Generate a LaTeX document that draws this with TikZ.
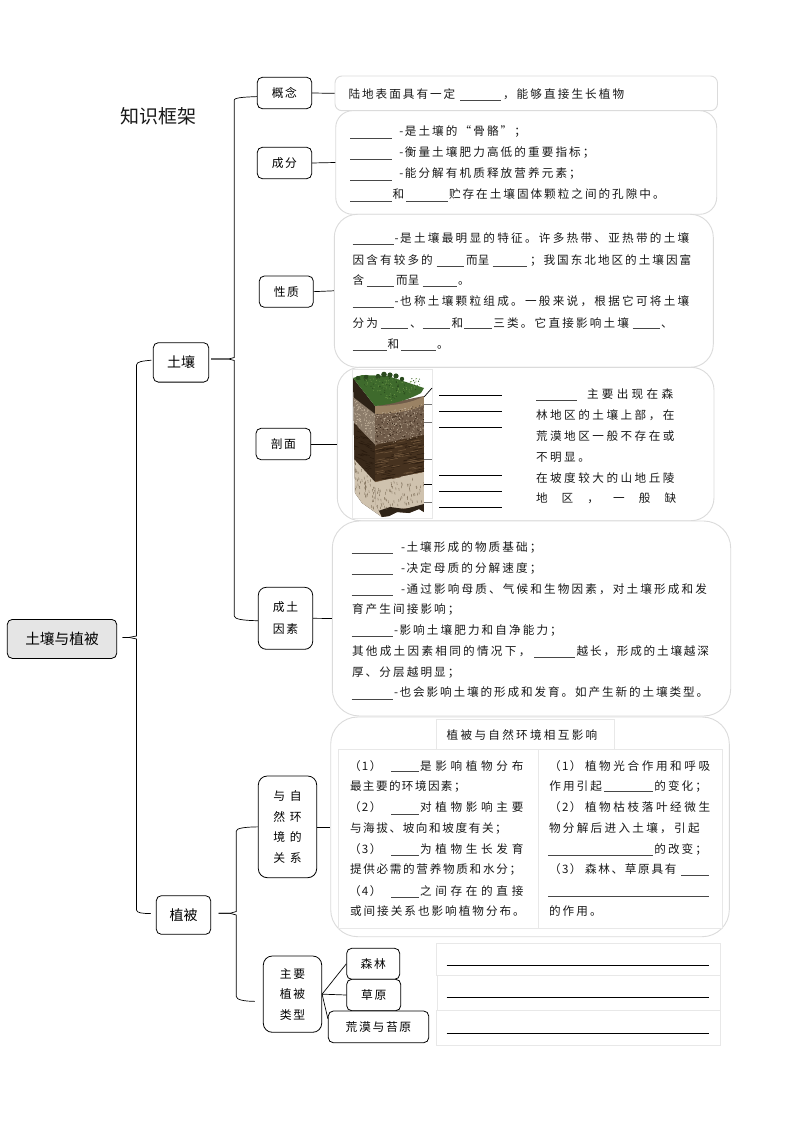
\documentclass[tikz,border=0pt]{standalone}
\usepackage{fontspec}
\setmainfont{Noto Sans CJK SC}
\definecolor{soilA}{HTML}{705C4A}
\definecolor{soilAs}{HTML}{C2B29C}
\definecolor{soilB}{HTML}{46321F}
\definecolor{soilBs}{HTML}{281A0E}
\definecolor{soilBl}{HTML}{73593E}
\definecolor{soilC}{HTML}{CFC2AE}
\definecolor{soilCs}{HTML}{75654F}
\definecolor{soilD}{HTML}{2E2317}
\definecolor{soilT}{HTML}{9A8264}
\definecolor{soilL}{HTML}{8C7C6A}
\definecolor{grassA}{HTML}{3E6A2C}
\definecolor{grassB}{HTML}{2A4A1E}
\definecolor{grassC}{HTML}{6C9648}
\tikzset{
  nodebox/.style={draw=black,line width=0.8pt,rounded corners=5pt,fill=white,inner sep=0pt,align=center},
  softbox/.style={draw=black!14,line width=0.9pt,fill=white,inner sep=0pt},
  framebox/.style={draw=black!9,line width=0.8pt,fill=white},
  txt/.style={anchor=base west,inner sep=0pt,outer sep=0pt,text=black!90},
  link/.style={draw=black,line width=0.7pt},
  blankln/.style={draw=black!72,line width=0.7pt},
  answerln/.style={draw=black,line width=0.8pt},
  tickln/.style={draw=black!55,line width=0.8pt},
  smallf/.style={font=\fontsize{11.8}{14}\selectfont\addfontfeature{LetterSpace=12}},
  twolf/.style={font=\fontsize{11.8}{21.7}\selectfont\addfontfeature{LetterSpace=13}},
  fourlf/.style={font=\fontsize{11.8}{20.5}\selectfont\addfontfeature{LetterSpace=40}},
  threelf/.style={font=\fontsize{11.8}{20.4}\selectfont\addfontfeature{LetterSpace=13}},
  leaff/.style={font=\fontsize{11.8}{14}\selectfont\addfontfeature{LetterSpace=14}}
}
\newcommand\tline[5][13.7]{%
  \pgfmathsetmacro\lsp{(#1-11.6)/11.6*100}%
  \edef\lsfont{\noexpand\addfontfeature{LetterSpace=\lsp}}%
  \node[txt,font=\fontsize{11.6}{13}\selectfont] (#2) at (#3,#4+4) {\lsfont #5};}
\newcommand\blk[3]{\draw[blankln] (#1,#3) -- (#2,#3);}
\newcommand\bx[7][nodebox]{%
  \node[#1,minimum width={(#5-#3)*1pt},minimum height={(#6-#4)*1pt}] (#2) at ({(#3+#5)/2},{(#4+#6)/2}) {#7};}
\newcommand\dsh{-\kern1.5pt}
\begin{document}
\begin{tikzpicture}[x=1pt,y=-1pt]
\useasboundingbox (0,0) rectangle (794,1123);
\fill[white] (0,0) rectangle (794,1123);

\node[txt,font=\fontsize{19}{22}\selectfont] (title) at (120,123.5) {知识框架};

% soft text panels
\bx[softbox,rounded corners=7pt]{tbone}{335}{76}{717.5}{110.7}{}
\bx[softbox,rounded corners=17pt]{tbtwo}{335.7}{110.7}{716.7}{214.3}{}
\bx[softbox,rounded corners=23pt]{tbthree}{334.3}{214.3}{713.3}{367.3}{}
\bx[softbox,rounded corners=23pt]{tbfour}{337.3}{367.3}{714}{520.7}{}
\bx[softbox,rounded corners=27pt]{tbfive}{332.3}{521}{730.7}{716}{}
\bx[softbox,rounded corners=27pt]{tbsix}{330.7}{717}{729.3}{936.7}{}

% mind map nodes
\bx[nodebox,fill=black!10,font=\fontsize{14.7}{17}\selectfont]{root}{7.3}{619.4}{116.7}{658.4}{土壤与植被}
\bx[nodebox,font=\fontsize{14}{17}\selectfont]{soil}{153.3}{342.7}{208.7}{382.1}{土壤}
\bx[nodebox,font=\fontsize{14}{17}\selectfont]{veg}{156.3}{895.7}{210.7}{934.3}{植被}
\bx[nodebox,smallf]{gn}{257.3}{77.3}{311.7}{108.7}{概念}
\bx[nodebox,smallf]{cf}{257.3}{147.3}{311.7}{178.7}{成分}
\bx[nodebox,smallf]{xz}{259.3}{276}{313.3}{307.3}{性质}
\bx[nodebox,smallf]{pm}{256}{428.3}{310.7}{459.7}{剖面}
\bx[nodebox,rounded corners=8pt,twolf]{ct}{258.3}{587.3}{312.7}{649.3}{成土\\因素}
\bx[nodebox,rounded corners=9pt,fourlf]{gx}{258.3}{776}{316.7}{877.7}{与自\\然环\\境的\\关系}
\bx[nodebox,rounded corners=9pt,threelf]{zl}{263.3}{956}{321.7}{1032.3}{主要\\植被\\类型}
\bx[nodebox,leaff]{sl}{346.7}{948.3}{399.7}{979.3}{森林}
\bx[nodebox,leaff]{cy}{346.7}{979.3}{400.7}{1010.7}{草原}
\bx[nodebox,leaff]{hm}{328.3}{1011}{428.7}{1042.7}{荒漠与苔原}

% braces
\draw[link] ([xshift=5.6pt,yshift=1.5pt]root.east) -- (129,637.4) -- (136.5,636) -- (136.5,365) .. controls (136.5,361.5) and (143,361) .. ([xshift=-1.6pt,yshift=2.2pt]soil.west);
\draw[link] ([xshift=5.6pt,yshift=1.5pt]root.east) -- (129,637.4) -- (136.5,639) -- (136.5,910) .. controls (136.5,913) and (143,913.5) .. ([xshift=-5pt,yshift=1.4pt]veg.west);
\draw[link] ([xshift=2pt,yshift=3.4pt]soil.east) -- (228.7,359) -- (234.3,357.5) -- (234.3,100) .. controls (234.3,97.5) and (246,97) .. ([yshift=-3.6pt]gn.west);
\draw[link] ([xshift=2pt,yshift=3.4pt]soil.east) -- (228.7,359) -- (234.3,360.5) -- (234.3,616) .. controls (234.3,619) and (242,620.5) .. ([yshift=-2.4pt]ct.west);
\draw[link] ([xshift=7.6pt,yshift=1.7pt]veg.east) -- (230,913.3) -- (236.3,911.5) -- (236.3,831) .. controls (236.3,828) and (246,827) .. (gx.west);
\draw[link] ([xshift=7.6pt,yshift=1.7pt]veg.east) -- (230,913.3) -- (236.3,915) -- (236.3,996.5) .. controls (236.3,1000) and (245,1001.3) .. ([xshift=-8pt,yshift=-7.2pt]zl.west);

% straight links
\draw[link] (gn.east) -- (tbone.west);
\draw[link] (cf.east) -- (tbtwo.west);
\draw[link] (xz.east) -- (tbthree.west);
\draw[link] (pm.east) -- (tbfour.west);
\draw[link] (ct.east) -- (tbfive.west);
\draw[link] (gx.east) -- (tbsix.west);
\draw[link] (zl.east) -- (sl.west);
\draw[link] (zl.east) -- (cy.west);
\draw[link] (zl.east) -- ([yshift=8pt]hm.west);

% panel 1
\tline[13.6]{aa}{348.5}{95}{陆地表面具有一定}
\blk{460}{500.7}{100.7}
\tline[13.7]{ab}{503}{95}{，能够直接生长植物}

% panel 2
\blk{350}{392}{138.3}\tline{ba}{399.3}{132}{\dsh 是土壤的“骨骼”；}
\blk{350}{392}{159.3}\tline{bb}{399.3}{153}{\dsh 衡量土壤肥力高低的重要指标；}
\blk{350}{392}{180}\tline{bc}{399.3}{174}{\dsh 能分解有机质释放营养元素；}
\blk{350}{392}{201}\tline{bd}{392.7}{195}{和}
\blk{406}{448}{201}\tline[13.6]{be}{449}{195}{贮存在土壤固体颗粒之间的孔隙中。}

% panel 3
\blk{352.7}{394}{244.3}\tline[13.87]{ca}{394.7}{238.3}{\dsh 是土壤最明显的特征。许多热带、亚热带的土壤}
\tline{cb}{352.7}{260}{因含有较多的}
\blk{436.7}{464}{266}\tline[11.8]{cc}{466}{260}{而呈}
\blk{492.7}{526.7}{266}\tline[13.6]{cd}{530}{260}{；我国东北地区的土壤因富}
\tline{ce}{352.7}{280.7}{含}
\blk{366.7}{394.3}{286}\tline[11.8]{cf2}{396}{280.7}{而呈}
\blk{422.7}{456.7}{286}\tline{cg}{458}{280.7}{。}
\blk{352.7}{394}{307.3}\tline[13.87]{ch}{394.7}{301.7}{\dsh 也称土壤颗粒组成。一般来说，根据它可将土壤}
\tline{ci}{352.7}{323.3}{分为}
\blk{380.7}{408.3}{328.3}\tline{cj}{410}{323.3}{、}
\blk{422.7}{450}{328.3}\tline{ck}{451.7}{323.3}{和}
\blk{464}{492.3}{328.3}\tline[13.8]{cl}{493.3}{323.3}{三类。它直接影响土壤}
\blk{632.7}{660}{328.3}\tline{cm}{661}{323.3}{、}
\blk{352.7}{386.7}{350}\tline{cn}{387.7}{344}{和}
\blk{401}{435.7}{350}\tline{co}{437}{344}{。}

% panel 4: soil column picture
\node[framebox,minimum width=80pt,minimum height=149pt,inner sep=0pt] (photo) at (392,443.5) {};
\pgfmathsetseed{11}
% left face
\begin{scope}
  \clip (353,378) -- (375,406) -- (375,482) -- (376,505) -- (382,517) -- (372,510) -- (362,503) -- (355,493) -- cycle;
  \fill[soilD] (353,370) rectangle (382,520);
  \fill[soilL] (353,397) -- (375,414) -- (375,445) -- (353,422) -- cycle;
  \fill[soilB!80!black] (353,422) -- (375,445) -- (375,482) -- (353,458) -- cycle;
  \fill[soilC] (353,458) -- (375,482) -- (382,520) -- (353,497) -- cycle;
  \foreach \i in {1,...,110}{
    \pgfmathsetmacro\ax{353+22*rnd}\pgfmathsetmacro\ay{397+26*rnd+(\ax-353)*0.85}
    \fill[soilAs] (\ax,\ay) circle (0.55);}
  \foreach \i in {1,...,40}{
    \pgfmathsetmacro\ax{353+18*rnd}\pgfmathsetmacro\ay{424+34*rnd+(\ax-353)*1.05}
    \draw[soilBs,line width=0.4pt] (\ax,\ay) -- ++(4,1.5);}
  \foreach \i in {1,...,60}{
    \pgfmathsetmacro\ax{353+22*rnd}\pgfmathsetmacro\ay{460+26*rnd+(\ax-353)*1.05}
    \draw[soilCs,line width=0.4pt] (\ax,\ay) -- ++(0.2,2.5);}
\end{scope}
% right face
\begin{scope}
  \clip (375,406) -- (424,396) -- (424,512) -- (419,509) -- (409,513) -- (397,512) -- (389,516) -- (382,517) -- (376,505) -- (375,482) -- cycle;
  \fill[soilA] (375,390) rectangle (424,520);
  \fill[soilT] (375,406) .. controls (395,406) and (415,402) .. (424,396) -- (424,405) .. controls (415,410) and (395,414) .. (375,414) -- cycle;
  \fill[soilB] (375,445) -- (424,435) -- (424,472) -- (375,482) -- cycle;
  \fill[soilC] (375,482) -- (424,472) -- (424,506) -- (375,512) -- cycle;
  \fill[soilD] (375,512) -- (390,507) -- (405,509) -- (424,504) -- (424,520) -- (375,520) -- cycle;
  \foreach \i in {1,...,260}{
    \pgfmathsetmacro\ax{375+49*rnd}\pgfmathsetmacro\ay{414+32*rnd-(\ax-375)*0.2}
    \fill[soilAs] (\ax,\ay) circle (0.45);}
  \foreach \i in {1,...,80}{
    \pgfmathsetmacro\ax{375+49*rnd}\pgfmathsetmacro\ay{414+32*rnd-(\ax-375)*0.2}
    \fill[soilBs] (\ax,\ay) circle (0.5);}
  \foreach \i in {1,...,55}{
    \pgfmathsetmacro\ax{373+45*rnd}\pgfmathsetmacro\ay{446+36*rnd-(\ax-375)*0.2}
    \draw[soilBs,line width=0.4pt] (\ax,\ay) -- ++(9,-1.8);}
  \foreach \i in {1,...,45}{
    \pgfmathsetmacro\ax{373+45*rnd}\pgfmathsetmacro\ay{446+36*rnd-(\ax-375)*0.2}
    \draw[soilBl,line width=0.5pt] (\ax,\ay) -- ++(8,-1.6);}
  \foreach \i in {1,...,70}{
    \pgfmathsetmacro\ax{375+49*rnd}\pgfmathsetmacro\ay{484+26*rnd-(\ax-375)*0.2}
    \draw[soilCs,line width=0.4pt] (\ax,\ay) -- ++(0.3,2.6);}
\end{scope}
% grass top
\fill[grassA] (353,378) -- (362,375) -- (388,376) -- (424,388) -- (421,393) .. controls (410,399) and (395,404) .. (375,406) -- cycle;
\foreach \ax/\ay/\ar in {358/378/2.2,366/377/2.2,378/376.5/2.6,384/374.5/2.8,390/375/2.6,396/376/2.6,402/379/2.2}{
  \fill[grassB] (\ax,\ay) circle (\ar);}
\foreach \i in {1,...,150}{
  \pgfmathsetmacro\ax{358+62*rnd}\pgfmathsetmacro\ay{378+24*rnd}
  \pgfmathsetmacro\keep{(\ay-378)<(\ax-353)*0.62 && (\ay-378)<(424-\ax)*0.42+9 ? 1 : 0}
  \ifdim\keep pt>0.5pt \fill[grassC] (\ax,\ay) circle (0.5); \fi}
\foreach \i in {1,...,90}{
  \pgfmathsetmacro\ax{358+62*rnd}\pgfmathsetmacro\ay{378+24*rnd}
  \pgfmathsetmacro\keep{(\ay-378)<(\ax-353)*0.62 && (\ay-378)<(424-\ax)*0.42+9 ? 1 : 0}
  \ifdim\keep pt>0.5pt \fill[grassB] (\ax,\ay) circle (0.6); \fi}

\draw[link] (424,397) -- (432,388);
\draw[tickln] (424,404) -- (432,404);
\draw[tickln] (424,422) -- (432,422);
\draw[tickln] (424,459) -- (432,459);
\draw[link] (424,484) -- (432,484);
\draw[tickln] (424,502.5) -- (432,502.5);
\foreach \ay in {395,411,427,475,491,507}{\draw[answerln] (439,\ay) -- (502,\ay);}

\blk{536}{577}{400}\tline[14.9]{da}{587}{394}{主要出现在森}
\tline[14.1]{db}{536}{415}{林地区的土壤上部，在}
\tline[14.1]{dc}{536}{436}{荒漠地区一般不存在或}
\tline[14.1]{dd}{536}{457}{不明显。}
\tline[14.1]{de}{536}{478}{在坡度较大的山地丘陵}
\tline[25.7]{df}{536}{498}{地区，一般缺}

% panel 5
\blk{351.7}{393.3}{553.3}\tline{ea}{401}{547.3}{\dsh 土壤形成的物质基础；}
\blk{351.7}{393.3}{574.3}\tline{eb}{401}{568.3}{\dsh 决定母质的分解速度；}
\blk{351.7}{393.3}{595.3}\tline[13.75]{ec}{401}{589}{\dsh 通过影响母质、气候和生物因素，对土壤形成和发}
\tline{ed}{352}{609.3}{育产生间接影响；}
\blk{351.7}{393.3}{636.7}\tline{ee}{394}{630.7}{\dsh 影响土壤肥力和自净能力；}
\tline[13.9]{ef}{352}{651.7}{其他成土因素相同的情况下，}
\blk{534}{575.3}{657.3}\tline[13.4]{eg}{576.7}{651.7}{越长，形成的土壤越深}
\tline{eh}{352}{672.3}{厚、分层越明显；}
\blk{351.7}{393.3}{699.3}\tline[13.5]{ei}{394}{692.7}{\dsh 也会影响土壤的形成和发育。如产生新的土壤类型。}

% panel 6
\node[framebox,minimum width=177.6pt,minimum height=30pt,inner sep=0pt] (ptitle) at (525.5,734) {};
\tline[13.9]{fa}{446.7}{735.7}{植被与自然环境相互影响}
\bx[framebox]{ltab}{338.3}{749}{538.3}{928.3}{}
\bx[framebox]{rtab}{538.3}{749}{722.7}{928}{}
\tline[13]{ga}{349}{766}{（1）}\blk{391}{419}{771.7}\tline[15.3]{gb}{420}{766}{是影响植物分布}
\tline[13]{gc}{350}{786.7}{最主要的环境因素；}
\tline[13]{gd}{349}{807.7}{（2）}\blk{391}{419}{814.3}\tline[15.3]{ge}{420}{807.7}{对植物影响主要}
\tline[13.2]{gf}{350}{828.3}{与海拔、坡向和坡度有关；}
\tline[13]{gg}{349}{849.3}{（3）}\blk{391}{419}{855}\tline[15.3]{gh}{420}{849.3}{为植物生长发育}
\tline[13.3]{gi}{350}{869.3}{提供必需的营养物质和水分；}
\tline[13]{gj}{349}{891}{（4）}\blk{391}{419}{897.3}\tline[15.3]{gk}{420}{891}{之间存在的直接}
\tline[13.6]{gl}{350}{911.7}{或间接关系也影响植物分布。}

\tline[13]{ha}{549}{766}{（1）}\tline[14.2]{hb}{585}{766}{植物光合作用和呼吸}
\tline{hc}{549.3}{786.7}{作用引起}\blk{604}{652.7}{791.7}\tline{hd}{654.3}{786.7}{的变化；}
\tline[13]{he}{549}{807.7}{（2）}\tline[14.2]{hf}{585}{807.7}{植物枯枝落叶经微生}
\tline[13.9]{hg}{549}{828.3}{物分解后进入土壤，引起}
\blk{548.3}{652.7}{855}\tline{hh}{654.3}{849.3}{的改变；}
\tline[13]{hi}{549}{869.3}{（3）}\tline[13.3]{hj}{585}{869.3}{森林、草原具有}\blk{681}{709}{875.7}
\blk{548.3}{709}{896.7}
\tline{hk}{549}{911.7}{的作用。}

% answer rows
\bx[framebox]{ansa}{436.7}{943.3}{720}{975.3}{}
\bx[framebox]{ansb}{437.3}{975.3}{720}{1010.3}{}
\bx[framebox]{ansc}{436.7}{1010.3}{720}{1045.7}{}
\draw[answerln] (446.7,965) -- (709.3,965);
\draw[answerln] (446.7,997.7) -- (709.3,997.7);
\draw[answerln] (446.7,1033.3) -- (709.3,1033.3);
\end{tikzpicture}
\end{document}
